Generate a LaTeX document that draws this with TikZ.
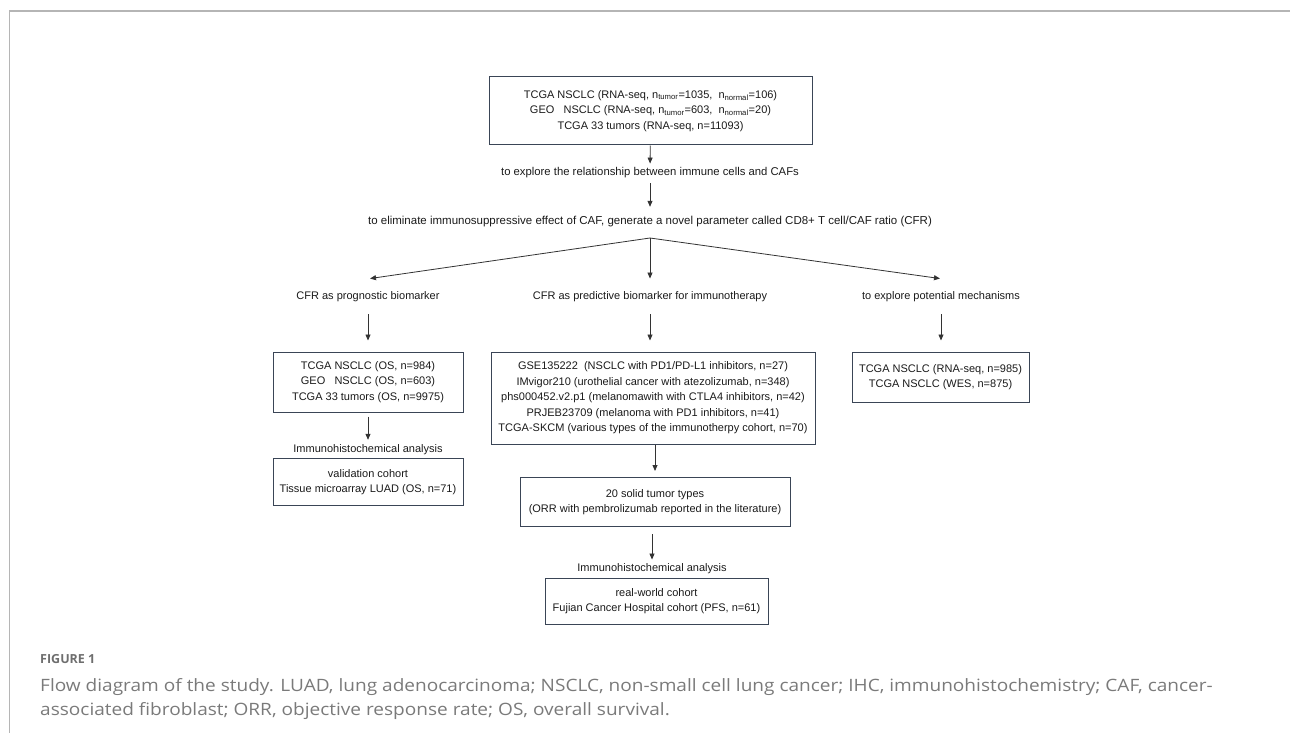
\documentclass[tikz,border=0pt]{standalone}
\usepackage{fontspec}
\setmainfont{Liberation Sans}
\newfontfamily\capfont[FakeStretch=1.12]{Open Sans}
\newfontfamily\capbold{Open Sans}
\usetikzlibrary{arrows.meta}
\definecolor{boxc}{HTML}{3A4556}
\definecolor{arrc}{HTML}{333333}
\definecolor{txtc}{HTML}{1A1A1A}
\definecolor{framec}{HTML}{B5B5B5}
\definecolor{capc}{HTML}{7A7A7A}
\definecolor{figc}{HTML}{6E6E6E}
\begin{document}
\begin{tikzpicture}[x=1pt,y=-1pt,
  every node/.style={font=\fontsize{11}{15.5}\selectfont, text=txtc},
  box/.style={draw=boxc, line width=1pt, inner sep=0pt, align=center},
  lbl/.style={inner sep=0pt, text height=8pt, text depth=2.5pt},
  arr/.style={draw=arrc, line width=0.8pt, -{Triangle[length=6pt,width=5pt]}},
  captxt/.style={anchor=base west, inner sep=0pt, text=capc}
]
\useasboundingbox (0,0) rectangle (1290,733);
\draw[framec, line width=1.2pt] (1290,11) -- (9.5,11) -- (9.5,733);

% top
\node[box, minimum width=323pt, minimum height=68pt] (top) at (650.5,111)
 {TCGA NSCLC (RNA-seq, n\textsubscript{tumor}=1035,\ \ n\textsubscript{normal}=106)\\
  GEO\ \ \ NSCLC (RNA-seq, n\textsubscript{tumor}=603,\ \ n\textsubscript{normal}=20)\\
  TCGA 33 tumors (RNA-seq, n=11093)};
\node[lbl, font=\fontsize{11.3}{15.5}\selectfont] (t1) at (650,173) {to explore the relationship between immune cells and CAFs};
\node[lbl, font=\fontsize{11.5}{15.5}\selectfont] (t2) at (650,222) {to eliminate immunosuppressive effect of CAF, generate a novel parameter called CD8+ T cell/CAF ratio (CFR)};
\coordinate (b) at (650,238);

\node[lbl] (L) at (368,297) {CFR as prognostic biomarker};
\node[lbl] (C) at (650,297) {CFR as predictive biomarker for immunotherapy};
\node[lbl] (R) at (941,297) {to explore potential mechanisms};

\draw[arr, shorten >=4pt] (top) -- (t1);
\draw[arr, shorten <=4.75pt, shorten >=9.75pt] (t1) -- (t2);
\draw[arr] (b) -- ([shift={(2,-13)}]L.north);
\draw[arr] (b) -- ([shift={(0,-13)}]C.north);
\draw[arr] (b) -- ([shift={(-1,-13)}]R.north);

% second row boxes
\node[box, minimum width=190pt, minimum height=60pt] (LB) at (368,382)
 {TCGA NSCLC (OS, n=984)\\GEO\ \ \ NSCLC (OS, n=603)\\TCGA 33 tumors (OS, n=9975)};
\node[box, minimum width=324pt, minimum height=92pt] (CB) at (653,398)
 {GSE135222\ \ (NSCLC with PD1/PD-L1 inhibitors, n=27)\\
  IMvigor210 (urothelial cancer with atezolizumab, n=348)\\
  phs000452.v2.p1 (melanomawith with CTLA4 inhibitors, n=42)\\
  PRJEB23709 (melanoma with PD1 inhibitors, n=41)\\
  TCGA-SKCM (various types of the immunotherpy cohort, n=70)};
\node[box, minimum width=177pt, minimum height=50pt] (RB) at (940.5,377)
 {TCGA NSCLC (RNA-seq, n=985)\\TCGA NSCLC (WES, n=875)};

\draw[arr, shorten <=12pt, shorten >=11pt] (L) -- (L|-LB.north);
\draw[arr, shorten <=12pt, shorten >=11pt] (C) -- (C|-CB.north);
\draw[arr, shorten <=12pt, shorten >=11pt] (R) -- (R|-RB.north);

% left chain
\node[lbl] (Lihc) at (368,450) {Immunohistochemical analysis};
\node[box, minimum width=190pt, minimum height=47pt] (LV) at (368,482)
 {validation cohort\\Tissue microarray LUAD (OS, n=71)};
\draw[arr, shorten <=4pt, shorten >=4.75pt] (LB) -- (Lihc);

% center chain
\node[box, minimum width=270pt, minimum height=49pt] (CS) at (655,502)
 {20 solid tumor types\\(ORR with pembrolizumab reported in the literature)};
\draw[arr, shorten >=6pt] (CB.south-|CS) -- (CS);
\node[lbl] (Cihc) at (652,569) {Immunohistochemical analysis};
\draw[arr, shorten <=7pt, shorten >=4pt] (CS.south-|Cihc) -- (Cihc);
\node[box, minimum width=223pt, minimum height=46pt] (CF) at (656.5,601)
 {real-world cohort\\Fujian Cancer Hospital cohort (PFS, n=61)};

% caption
\node[captxt, text=figc, font=\capbold\bfseries\fontsize{12.5}{14}\selectfont] (fig) at (40,663) {FIGURE 1};
\node[captxt, font=\capfont\fontsize{17}{22}\selectfont] (cap1) at (40,691)
 {Flow diagram of the study. LUAD, lung adenocarcinoma; NSCLC, non-small cell lung cancer; IHC, immunohistochemistry; CAF, cancer-};
\node[captxt, font=\capfont\fontsize{17}{22}\selectfont] (cap2) at (40,715)
 {associated fibroblast; ORR, objective response rate; OS, overall survival.};
\end{tikzpicture}
\end{document}
